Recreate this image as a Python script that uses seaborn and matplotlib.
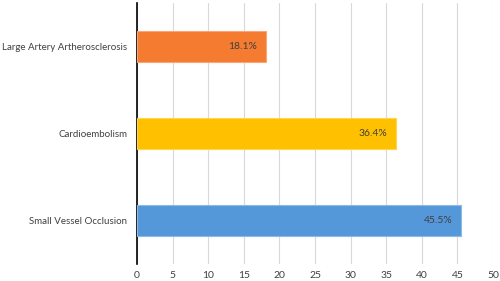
import matplotlib
matplotlib.use("Agg")
import matplotlib.pyplot as plt
import seaborn as sns
import pandas as pd

categories = ["Large Artery Artherosclerosis", "Cardioembolism", "Small Vessel Occlusion"]
values = [18.1, 36.4, 45.5]
labels = ["18.1%", "36.4%", "45.5%"]
colors = ["#F47B2F", "#FFC000", "#5598DA"]
edges = ["#F9A577", "#FFD54F", "#8DBBE8"]
xticks = [0, 5, 10, 15, 20, 25, 30, 35, 40, 45, 50]

sns.set_style("white")
plt.rcParams["font.family"] = ["Lato", "DejaVu Sans"]

df = pd.DataFrame({"cat": categories, "val": values})

fig = plt.figure(figsize=(5, 2.81), dpi=100)
ax = fig.add_axes([0.274, 0.0605, 0.712, 0.928])

sns.barplot(data=df, x="val", y="cat", hue="cat", palette=colors, legend=False,
            width=0.35, saturation=1, ax=ax, zorder=3)
for patch, ec in zip(ax.patches, edges):
    patch.set_edgecolor(ec)
    patch.set_linewidth(0.8)

for i, (v, lab) in enumerate(zip(values, labels)):
    ax.text(v - 1.2, i, lab, ha="right", va="center", fontsize=7.5, color="#404040", zorder=4)

ax.set_xlim(0, 50)
ax.set_ylim(2.5, -0.5)
ax.set_xticks(xticks)
ax.xaxis.grid(True, color="#D9D9D9", linewidth=0.8, zorder=0)
ax.set_axisbelow(True)
ax.set_xlabel("")
ax.set_ylabel("")
ax.tick_params(axis="x", length=0, labelsize=7.5, colors="#404040", pad=5)
ax.tick_params(axis="y", length=0, labelsize=7, colors="#404040", pad=7)
for s in ["top", "right", "bottom"]:
    ax.spines[s].set_visible(False)
ax.spines["left"].set_color("black")
ax.spines["left"].set_linewidth(1.2)

fig.savefig("out.png", dpi=100)
